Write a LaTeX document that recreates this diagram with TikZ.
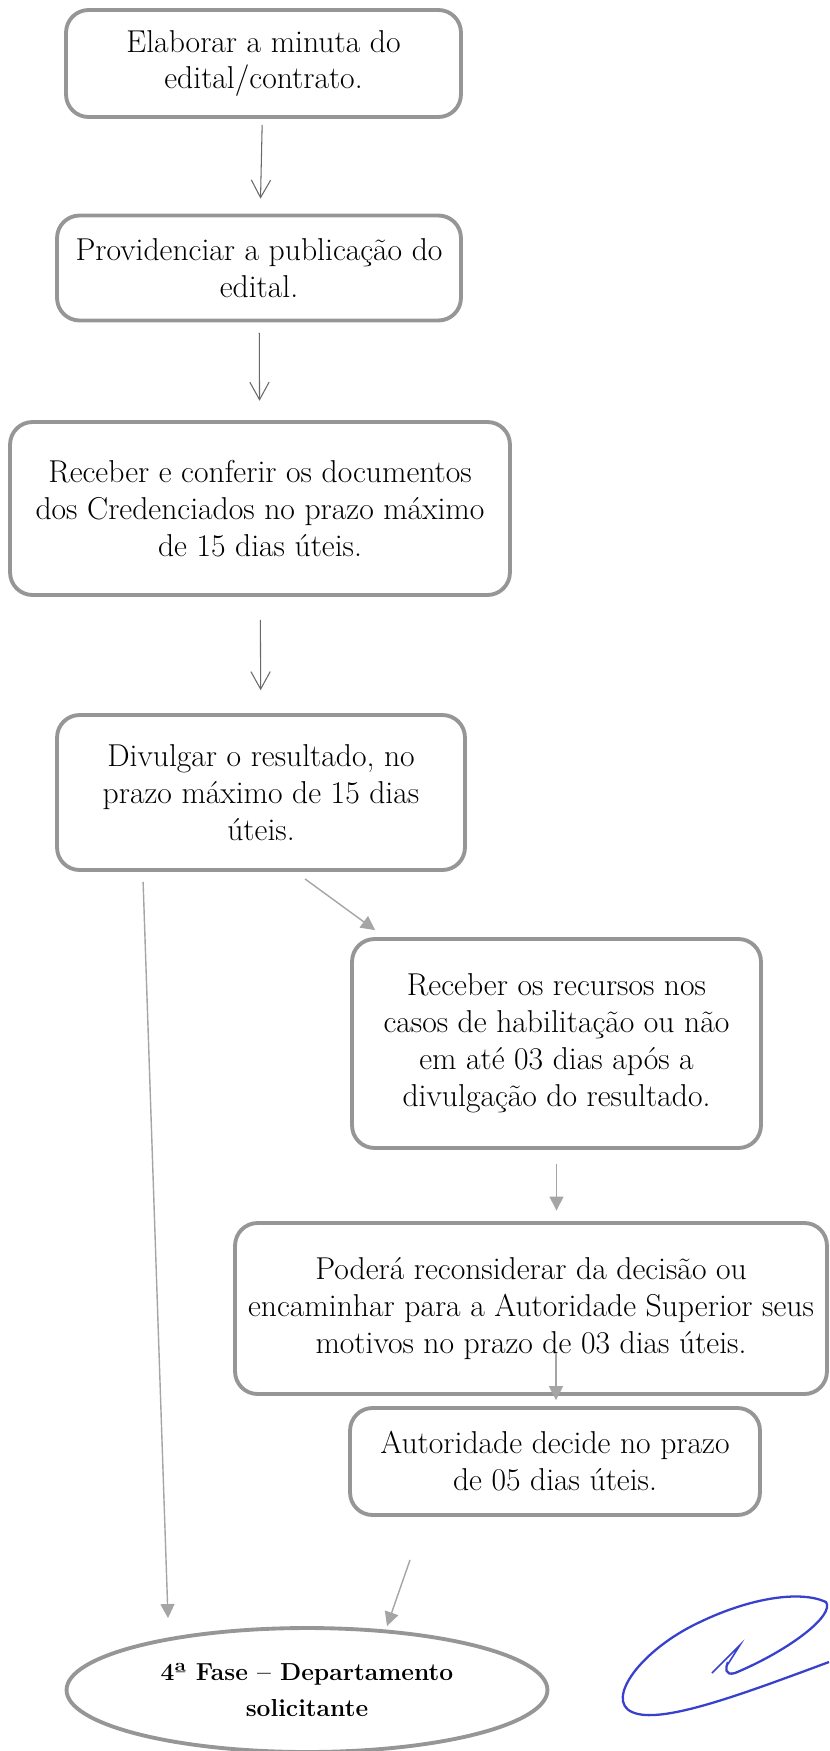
\documentclass[tikz,border=0pt]{standalone}
\usepackage{tikz}
\usetikzlibrary{calc,positioning,shapes.geometric,arrows.meta}
\usepackage{xcolor}
\definecolor{boxgray}{RGB}{150,150,150}
\definecolor{arrdark}{RGB}{105,105,105}
\definecolor{arrlight}{RGB}{165,165,165}
\definecolor{inkblue}{RGB}{55,65,205}

\tikzset{
  stepbox/.style={draw=boxgray, line width=2.2pt, rounded corners=0.45cm, align=center, inner sep=0pt, font=\fontsize{18}{21}\selectfont},
  phase/.style={ellipse, draw=boxgray, line width=2.2pt, align=center, inner sep=0pt, font=\fontsize{14}{21}\selectfont\bfseries},
  darr/.style={draw=arrdark, line width=0.6pt, -{Straight Barb[length=10pt,width=11pt]}},
  larr/.style={draw=arrlight, line width=0.8pt, -{Triangle[length=8pt,width=8pt]}},
}

\begin{document}
\begin{tikzpicture}[x=0.02cm, y=-0.02cm]
    \useasboundingbox (0,0) rectangle (829,1751);

% Main column
\node[stepbox, minimum width=7.9cm, minimum height=2.14cm] (elab) at (263.5,63.5) {Elaborar a minuta do\\edital/contrato.};
\node[stepbox, minimum width=8.08cm, minimum height=2.1cm] (pub) at (259,268) {Providenciar a publicação do\\edital.};
\node[stepbox, minimum width=10cm, minimum height=3.46cm] (conf) at (260,508.5) {Receber e conferir os documentos\\dos Credenciados no prazo máximo\\de 15 dias úteis.};
\node[stepbox, minimum width=8.16cm, minimum height=3.1cm] (divul) at (261,792.5) {Divulgar o resultado, no\\prazo máximo de 15 dias\\úteis.};

% Recursos branch
\node[stepbox, minimum width=8.18cm, minimum height=4.18cm] (rec) at (556.5,1043.5) {Receber os recursos nos\\casos de habilitação ou não\\em até 03 dias após a\\divulgação do resultado.};
\node[stepbox, minimum width=11.84cm, minimum height=3.42cm] (pod) at (531,1308.5) {Poderá reconsiderar da decisão ou\\encaminhar para a Autoridade Superior seus\\motivos no prazo de 03 dias úteis.};
\node[stepbox, minimum width=8.2cm, minimum height=2.14cm] (aut) at (555,1461.5) {Autoridade decide no prazo\\de 05 dias úteis.};

\node[phase, minimum width=9.62cm, minimum height=2.48cm] (fase) at (307,1690) {4ª Fase – Departamento\\solicitante};

% Arrows
\draw[darr, shorten <=3.4pt, shorten >=8.5pt] (elab) -- (pub);
\draw[darr, shorten <=6pt, shorten >=11pt] (pub) -- (conf);
\draw[darr, shorten <=13pt, shorten >=13pt] (conf) -- (divul);

\draw[larr] ($(divul.south)+(44,7)$) -- ($(rec.north west)+(25,-7)$);
\draw[larr] ($(divul.south west)+(88,10)$) -- ($(fase.north)+(-139,-8)$);
\draw[larr, shorten <=8pt, shorten >=6pt] (rec.south) -- (rec.south |- pod.north);
\draw[larr] ($(aut.north)+(1,-53)$) -- ($(aut.north)+(1,-6)$);
\draw[larr] ($(aut.south)+(-145,43)$) -- ($(fase.north)+(80,0)$);

% Signature
\draw[inkblue, line width=1.3pt] (829,1662) .. controls (740,1695) and (660,1725) .. (632,1712)
    .. controls (605,1700) and (640,1650) .. (700,1622)
    .. controls (750,1598) and (800,1590) .. (826,1602)
    .. controls (835,1615) and (790,1650) .. (735,1673)
    .. controls (725,1676) and (725,1668) .. (728,1662);
\draw[inkblue, line width=0.9pt] (728,1664) -- (740,1645) -- (712,1673);
\end{tikzpicture}
\end{document}
